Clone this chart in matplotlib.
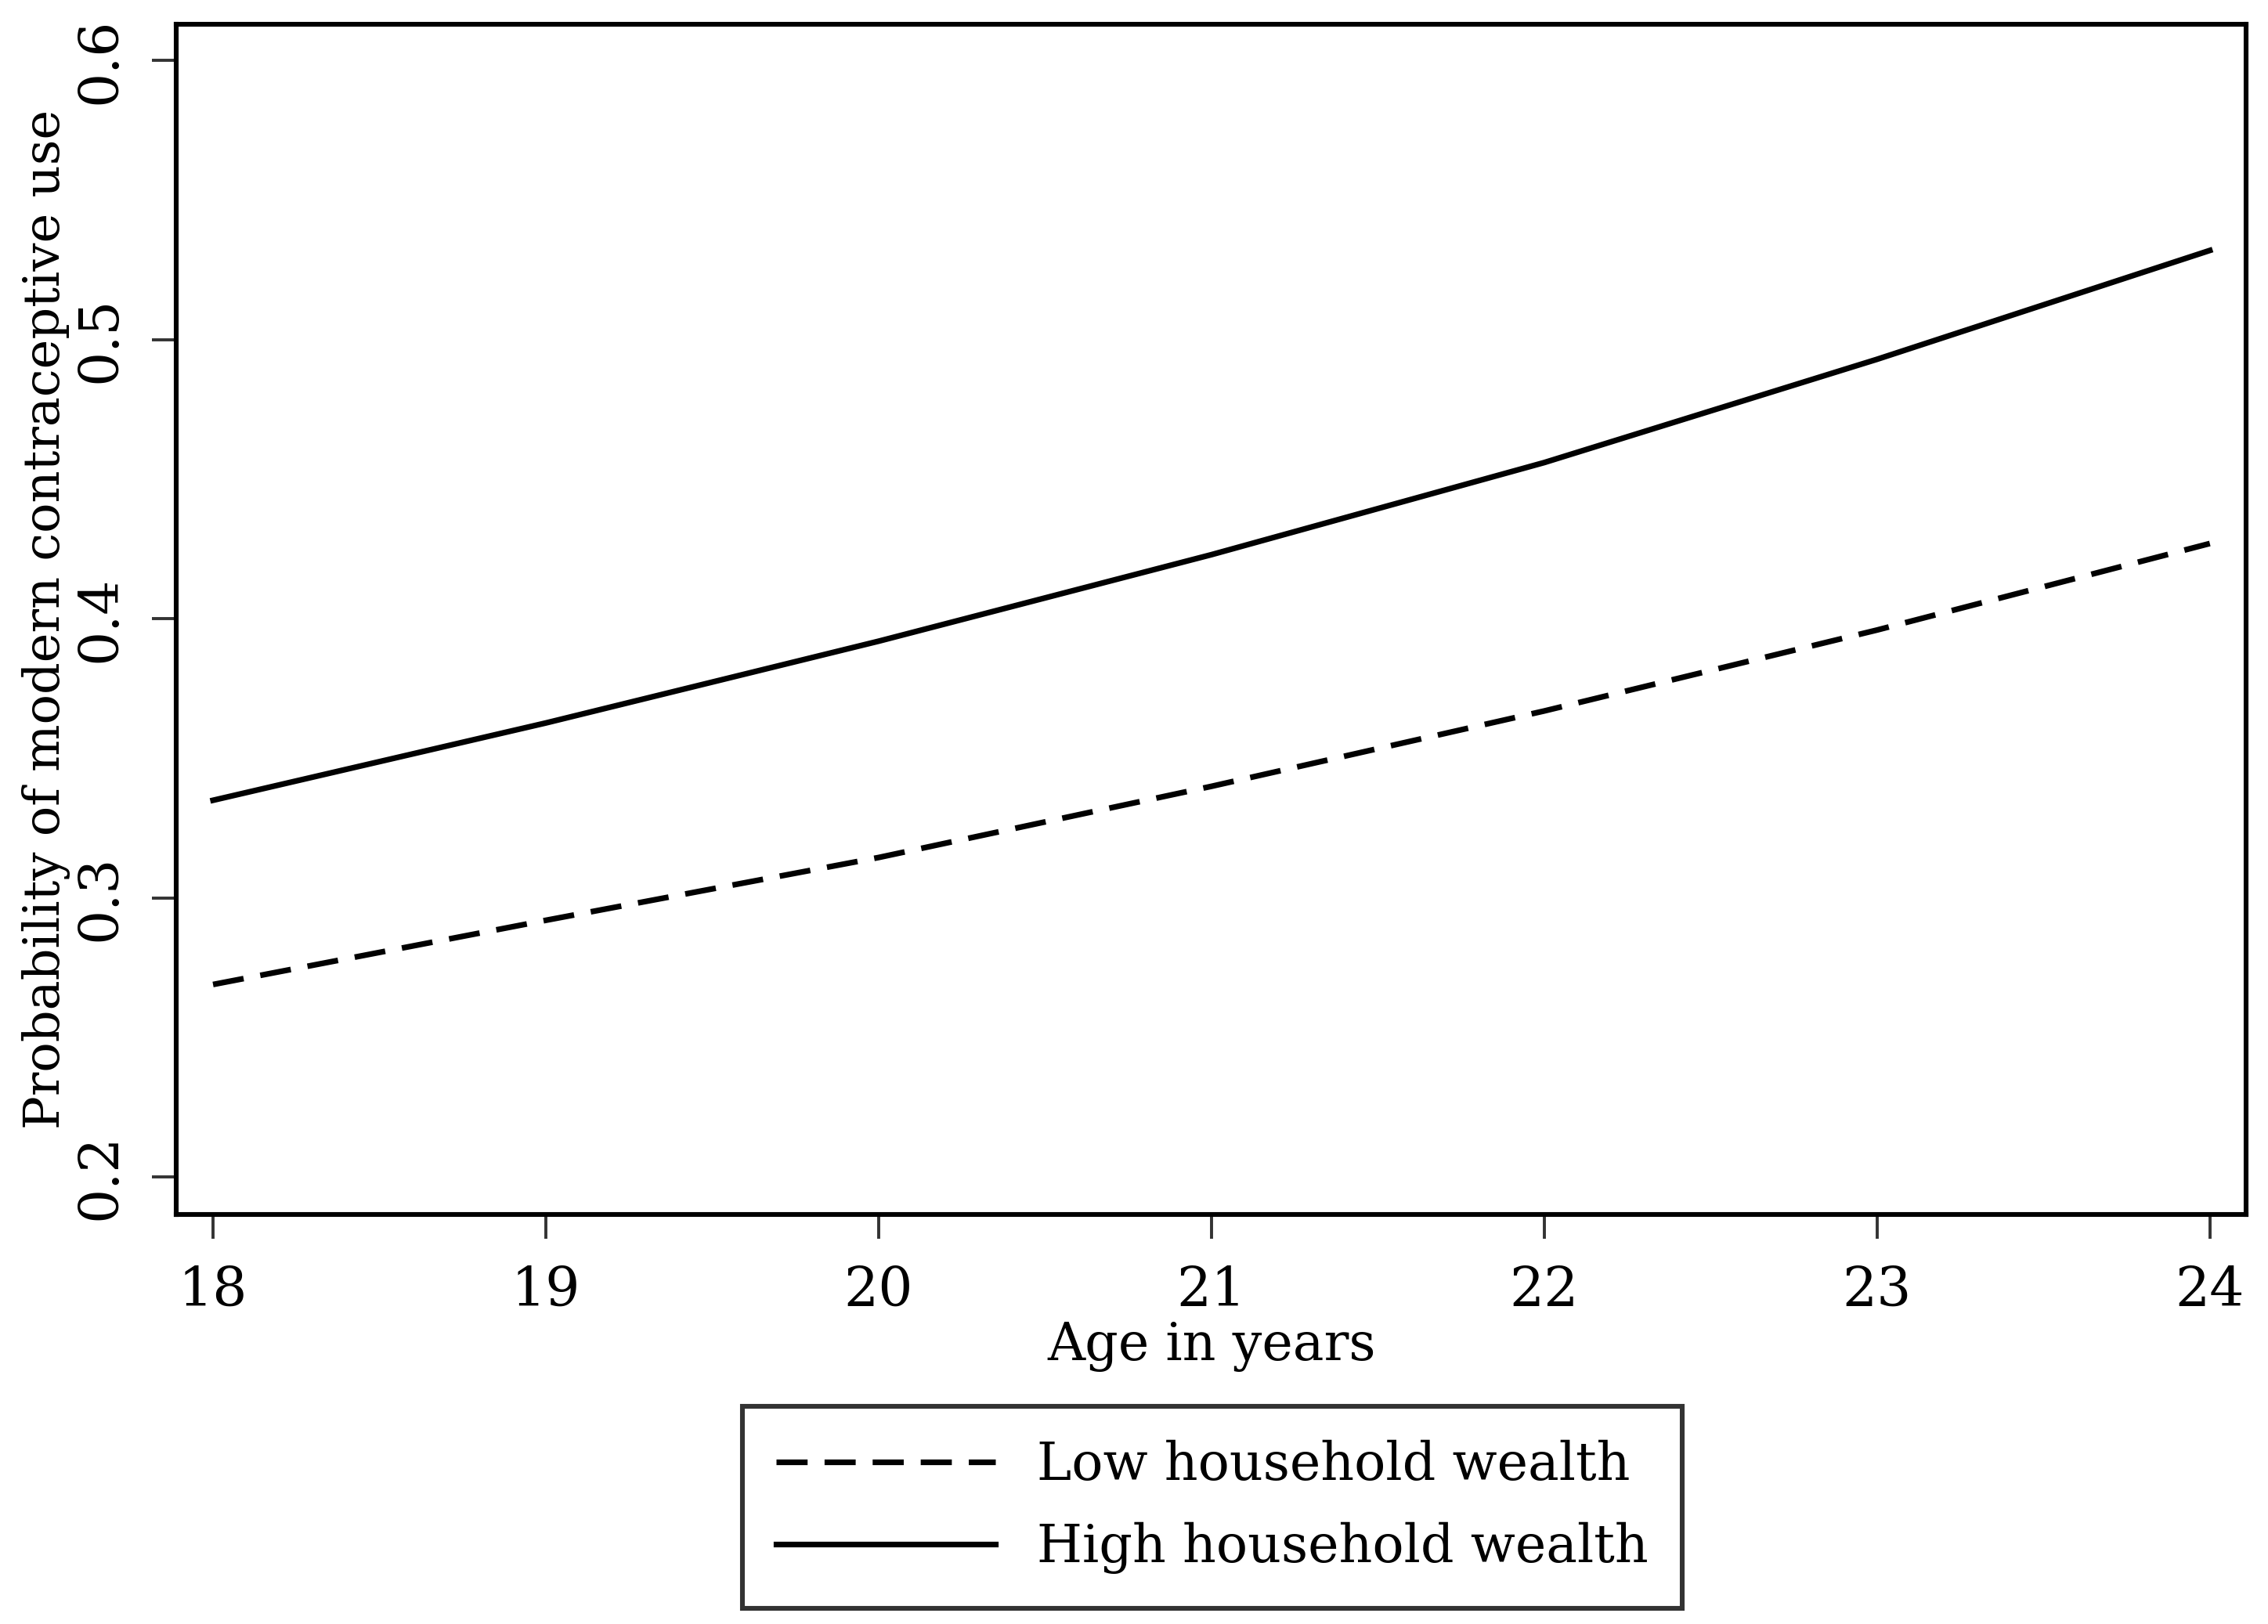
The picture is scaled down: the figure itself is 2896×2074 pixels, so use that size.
import matplotlib
matplotlib.use("Agg")
import matplotlib.pyplot as plt

# Predicted probabilities
age = [18, 19, 20, 21, 22, 23, 24]
low_wealth = [0.269, 0.292, 0.3145, 0.340, 0.367, 0.396, 0.427]
high_wealth = [0.335, 0.3627, 0.392, 0.423, 0.456, 0.493, 0.532]
yticks = [0.2, 0.3, 0.4, 0.5, 0.6]

plt.rcParams['font.family'] = ['DejaVu Serif']
FS = 25

fig = plt.figure(figsize=(14.48, 10.37), dpi=200)
ax = fig.add_axes([0.0778, 0.252, 0.9127, 0.733])

ax.plot(age, low_wealth, color='black', lw=2.6, ls=(0, (5.5, 3)), label='Low household wealth')
ax.plot(age, high_wealth, color='black', lw=2.6, label='High household wealth')

ax.set_xlim(17.89, 24.11)
ax.set_ylim(0.1865, 0.613)
ax.set_xticks(age)
ax.set_yticks(yticks)
ax.set_yticklabels([f"{v:.1f}" for v in yticks], rotation=90, va='center')
ax.tick_params(direction='out', length=11, width=1.4, color='#333333', labelsize=FS, pad=12)
for s in ax.spines.values():
    s.set_linewidth(2.2)

ax.set_xlabel("Age in years", fontsize=24, labelpad=2)
ax.set_ylabel("Probability of modern contraceptive use", fontsize=23, labelpad=2)

leg = fig.legend(loc='center', bbox_to_anchor=(0.5345, 0.072), fontsize=24,
                 frameon=True, fancybox=False, edgecolor='black', handlelength=4.2,
                 handletextpad=0.8, borderpad=0.65, labelspacing=0.6, borderaxespad=0)
leg.get_frame().set_linewidth(2.2)

fig.savefig("out.png", dpi=200, facecolor='white')
